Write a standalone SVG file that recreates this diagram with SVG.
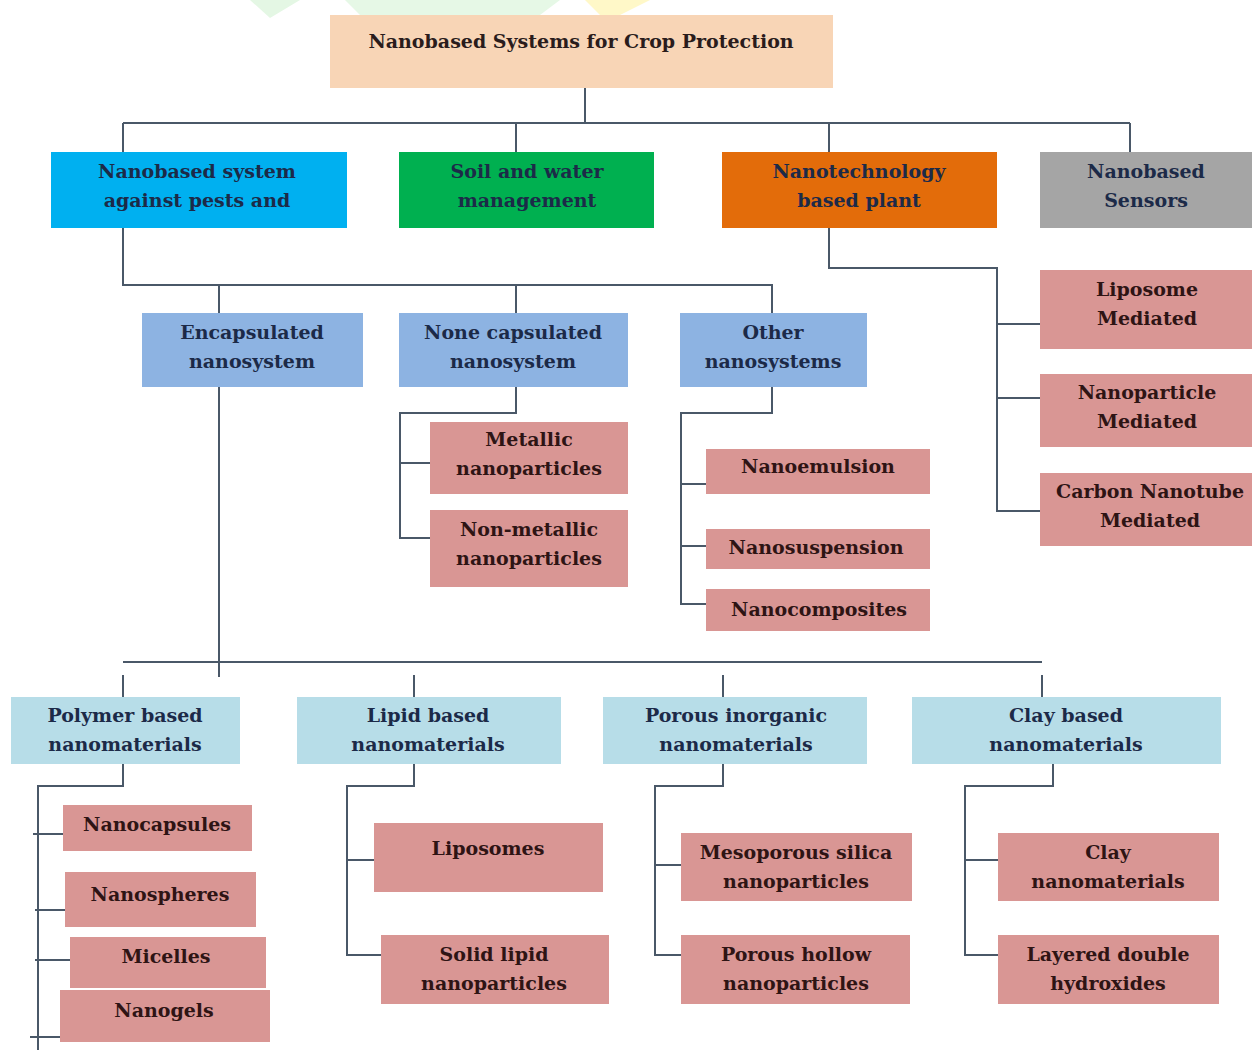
<svg xmlns="http://www.w3.org/2000/svg" width="1252" height="1050" viewBox="0 0 1252 1050">
<style>
text{font-family:"DejaVu Serif","Liberation Serif",serif;font-weight:bold;font-size:19px;text-anchor:middle}
.tb{fill:#1c2a48}
.tp{fill:#2e1414}
.tr{fill:#2a1c1c}
.root{fill:#f8d5b6}
.blue{fill:#00b0f0}
.green{fill:#00b050}
.orange{fill:#e36c0a}
.gray{fill:#a5a5a5}
.l2{fill:#8db3e2}
.l3{fill:#b7dde8}
.pink{fill:#d99694}
.con{stroke:#4a5868;stroke-width:2;fill:none}
</style>
<rect width="1252" height="1050" fill="#ffffff"/>
<g id="watermark">
<path d="M250 0 L300 0 L270 18 Z" fill="#e4f7e4"/>
<path d="M345 0 L560 0 L540 15 L360 15 Z" fill="#e6f8e6"/>
<path d="M585 0 L650 0 L620 15 L600 15 Z" fill="#fff8c8"/>
</g>
<g id="connectors" class="con">
<path d="M585 88 V123 M123 123 H1130 M123 123 V152 M516 123 V152 M829 123 V152 M1130 123 V152"/>
<path d="M123 228 V285 H772 V313 M219 285 V313 M516 285 V313"/>
<path d="M829 228 V268 H997 V511 H1040 M997 324 H1040 M997 398 H1040"/>
<path d="M516 387 V413 H400 V538 H430 M400 463 H430"/>
<path d="M772 387 V413 H681 V604 H706 M681 484 H706 M681 546 H706"/>
<path d="M219 387 V677 M123 662 H1042 M123 675 V697 M414 675 V697 M723 675 V697 M1042 675 V697"/>
<path d="M123 764 V786 H38 V1050 M33 834 H63 M35 910 H65 M35 960 H70 M30 1037 H60"/>
<path d="M414 764 V786 H347 V955 H381 M347 860 H374"/>
<path d="M723 764 V786 H655 V955 H681 M655 865 H681"/>
<path d="M1053 764 V786 H965 V955 H998 M965 860 H998"/>
</g>
<g id="root"><rect class="root" x="330" y="15" width="503" height="73"/><text class="tr" x="581" y="48">Nanobased Systems for Crop Protection</text></g>
<g id="n-pests"><rect class="blue" x="51" y="152" width="296" height="76"/><text class="tb" x="197" y="178">Nanobased system</text><text class="tb" x="197" y="207">against pests and</text></g>
<g id="n-soil"><rect class="green" x="399" y="152" width="255" height="76"/><text class="tb" x="527" y="178">Soil and water</text><text class="tb" x="527" y="207">management</text></g>
<g id="n-nanotech"><rect class="orange" x="722" y="152" width="275" height="76"/><text class="tb" x="859" y="178">Nanotechnology</text><text class="tb" x="859" y="207">based plant</text></g>
<g id="n-sensors"><rect class="gray" x="1040" y="152" width="212" height="76"/><text class="tb" x="1146" y="178">Nanobased</text><text class="tb" x="1146" y="207">Sensors</text></g>
<g id="n-encap"><rect class="l2" x="142" y="313" width="221" height="74"/><text class="tb" x="252" y="339">Encapsulated</text><text class="tb" x="252" y="368">nanosystem</text></g>
<g id="n-noncap"><rect class="l2" x="399" y="313" width="229" height="74"/><text class="tb" x="513" y="339">None capsulated</text><text class="tb" x="513" y="368">nanosystem</text></g>
<g id="n-other"><rect class="l2" x="680" y="313" width="187" height="74"/><text class="tb" x="773" y="339">Other</text><text class="tb" x="773" y="368">nanosystems</text></g>
<g id="n-liposome-med"><rect class="pink" x="1040" y="270" width="212" height="79"/><text class="tp" x="1147" y="296">Liposome</text><text class="tp" x="1147" y="325">Mediated</text></g>
<g id="n-np-med"><rect class="pink" x="1040" y="374" width="212" height="73"/><text class="tp" x="1147" y="399">Nanoparticle</text><text class="tp" x="1147" y="428">Mediated</text></g>
<g id="n-cnt-med"><rect class="pink" x="1040" y="473" width="212" height="73"/><text class="tp" x="1150" y="498">Carbon Nanotube</text><text class="tp" x="1150" y="527">Mediated</text></g>
<g id="n-metallic"><rect class="pink" x="430" y="422" width="198" height="72"/><text class="tp" x="529" y="446">Metallic</text><text class="tp" x="529" y="475">nanoparticles</text></g>
<g id="n-nonmetallic"><rect class="pink" x="430" y="510" width="198" height="77"/><text class="tp" x="529" y="536">Non-metallic</text><text class="tp" x="529" y="565">nanoparticles</text></g>
<g id="n-nanoemulsion"><rect class="pink" x="706" y="449" width="224" height="45"/><text class="tp" x="818" y="473">Nanoemulsion</text></g>
<g id="n-nanosuspension"><rect class="pink" x="706" y="529" width="224" height="40"/><text class="tp" x="816" y="554">Nanosuspension</text></g>
<g id="n-nanocomposites"><rect class="pink" x="706" y="589" width="224" height="42"/><text class="tp" x="819" y="616">Nanocomposites</text></g>
<g id="n-polymer"><rect class="l3" x="11" y="697" width="229" height="67"/><text class="tb" x="125" y="722">Polymer based</text><text class="tb" x="125" y="751">nanomaterials</text></g>
<g id="n-lipid"><rect class="l3" x="297" y="697" width="264" height="67"/><text class="tb" x="428" y="722">Lipid based</text><text class="tb" x="428" y="751">nanomaterials</text></g>
<g id="n-porous"><rect class="l3" x="603" y="697" width="264" height="67"/><text class="tb" x="736" y="722">Porous inorganic</text><text class="tb" x="736" y="751">nanomaterials</text></g>
<g id="n-clay"><rect class="l3" x="912" y="697" width="309" height="67"/><text class="tb" x="1066" y="722">Clay based</text><text class="tb" x="1066" y="751">nanomaterials</text></g>
<g id="n-nanocapsules"><rect class="pink" x="63" y="805" width="189" height="46"/><text class="tp" x="157" y="831">Nanocapsules</text></g>
<g id="n-nanospheres"><rect class="pink" x="65" y="872" width="191" height="55"/><text class="tp" x="160" y="901">Nanospheres</text></g>
<g id="n-micelles"><rect class="pink" x="70" y="937" width="196" height="51"/><text class="tp" x="166" y="963">Micelles</text></g>
<g id="n-nanogels"><rect class="pink" x="60" y="990" width="210" height="52"/><text class="tp" x="164" y="1017">Nanogels</text></g>
<g id="n-liposomes"><rect class="pink" x="374" y="823" width="229" height="69"/><text class="tp" x="488" y="855">Liposomes</text></g>
<g id="n-sln"><rect class="pink" x="381" y="935" width="228" height="69"/><text class="tp" x="494" y="961">Solid lipid</text><text class="tp" x="494" y="990">nanoparticles</text></g>
<g id="n-mesoporous"><rect class="pink" x="681" y="833" width="231" height="68"/><text class="tp" x="796" y="859">Mesoporous silica</text><text class="tp" x="796" y="888">nanoparticles</text></g>
<g id="n-hollow"><rect class="pink" x="681" y="935" width="229" height="69"/><text class="tp" x="796" y="961">Porous hollow</text><text class="tp" x="796" y="990">nanoparticles</text></g>
<g id="n-claynano"><rect class="pink" x="998" y="833" width="221" height="68"/><text class="tp" x="1108" y="859">Clay</text><text class="tp" x="1108" y="888">nanomaterials</text></g>
<g id="n-ldh"><rect class="pink" x="998" y="935" width="221" height="69"/><text class="tp" x="1108" y="961">Layered double</text><text class="tp" x="1108" y="990">hydroxides</text></g>
</svg>
